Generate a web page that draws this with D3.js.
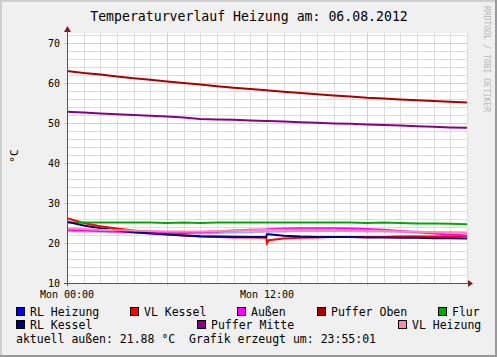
<!DOCTYPE html>
<html>
<head>
<meta charset="utf-8">
<script src="https://cdn.jsdelivr.net/npm/d3@7"></script>
<style>
  body { margin: 0; background: #f0f0f0; }
  svg text { font-family: "DejaVu Sans Mono", monospace; fill: #000; }
</style>
</head>
<body>
<svg id="chart" width="497" height="357"></svg>
<script>
// Stunden seit Mon 00:00
const hours = [0,1,2,3,4,5,6,7,8,9,10,11,11.95,12,12.1,13,14,15,16,17,18,19,20,21,22,23,24];

const rlHeizung   = [23.0,22.9,22.8,22.7,22.6,22.5,22.4,22.4,22.4,22.5,22.6,22.7,22.8,22.8,22.8,22.9,23.0,23.0,23.0,23.0,22.9,22.9,22.8,22.8,22.7,22.7,22.6];
const vlKessel    = [26.2,25.0,24.2,23.6,23.1,22.6,22.2,21.9,21.6,21.5,21.4,21.4,21.3,20.0,20.7,21.1,21.3,21.4,21.5,21.5,21.5,21.5,21.6,21.6,21.6,21.6,21.7];
const aussen      = [23.3,23.2,23.0,22.9,22.7,22.6,22.5,22.5,22.7,22.9,23.1,23.3,23.4,23.4,23.5,23.6,23.7,23.7,23.7,23.6,23.5,23.3,23.0,22.7,22.4,22.1,21.9];
const pufferOben  = [63.0,62.5,62.1,61.6,61.2,60.8,60.4,60.0,59.6,59.2,58.8,58.5,58.2,58.2,58.1,57.8,57.5,57.2,56.9,56.6,56.3,56.1,55.9,55.7,55.5,55.3,55.1];
const flur        = [25.1,25.1,25.1,25.1,25.1,25.1,25.0,25.1,25.0,25.1,25.1,25.1,25.1,25.1,25.1,25.1,25.1,25.1,25.1,25.1,25.0,25.1,25.0,24.9,24.85,24.8,24.7];
const rlKessel    = [25.3,24.4,23.7,23.1,22.7,22.4,22.1,21.9,21.7,21.6,21.55,21.5,21.5,22.2,22.2,21.8,21.6,21.5,21.5,21.5,21.4,21.4,21.3,21.3,21.2,21.2,21.1];
const pufferMitte = [52.8,52.6,52.4,52.2,52.0,51.8,51.6,51.4,51.0,50.9,50.8,50.65,50.5,50.5,50.5,50.35,50.2,50.05,49.9,49.8,49.65,49.5,49.35,49.2,49.05,48.9,48.8];
const vlHeizung   = [23.6,23.5,23.3,23.2,23.1,23.0,22.9,22.9,22.9,23.0,23.1,23.2,23.3,23.3,23.3,23.3,23.3,23.3,23.3,23.2,23.1,23.0,22.9,22.8,22.7,22.6,22.5];

const seriesNames  = ["RL Heizung","VL Kessel","Außen","Puffer Oben","Flur","RL Kessel","Puffer Mitte","VL Heizung"];
const seriesColors = ["#0000ff","#ff0000","#ff00ff","#aa0000","#00aa00","#000080","#880088","#ff88aa"];
const seriesValues = [rlHeizung, vlKessel, aussen, pufferOben, flur, rlKessel, pufferMitte, vlHeizung];

const yTicks = [10,20,30,40,50,60,70];
const xTicks = [0, 12];
const xTickLabels = ["Mon 00:00", "Mon 12:00"];

const svg = d3.select("#chart");
const W = 497, H = 357;

// Rahmen
svg.append("rect").attr("x",0).attr("y",0).attr("width",W).attr("height",H).attr("fill","#f0f0f0");
svg.append("rect").attr("x",0).attr("y",0).attr("width",W).attr("height",2).attr("fill","#cfcfcf");
svg.append("rect").attr("x",0).attr("y",0).attr("width",2).attr("height",H).attr("fill","#cfcfcf");
svg.append("rect").attr("x",W-2).attr("y",0).attr("width",2).attr("height",H).attr("fill","#9a9a9a");
svg.append("rect").attr("x",0).attr("y",H-2).attr("width",W).attr("height",2).attr("fill","#9a9a9a");

const x = d3.scaleLinear().domain([0,24]).range([67,467]);
const y = d3.scaleLinear().domain([10,72.5]).range([283,33]);

svg.append("rect")
  .attr("x", x(0)).attr("y", y(72.5))
  .attr("width", x(24)-x(0)).attr("height", y(10)-y(72.5))
  .attr("fill", "#fff");

// Gitter
const grid = svg.append("g").attr("shape-rendering","crispEdges");
grid.selectAll(".hmin").data(d3.range(12,73,2).filter(v => v % 10 !== 0))
  .enter().append("line")
  .attr("x1", x(0)).attr("x2", x(24))
  .attr("y1", d => Math.round(y(d))+0.5).attr("y2", d => Math.round(y(d))+0.5)
  .attr("stroke", "#dcdcdc");
grid.selectAll(".vmin").data(d3.range(1,25).filter(h => h % 6 !== 0 || h === 24))
  .enter().append("line")
  .attr("y1", y(72.5)).attr("y2", y(10))
  .attr("x1", d => Math.round(x(d))+0.5).attr("x2", d => Math.round(x(d))+0.5)
  .attr("stroke", "#dcdcdc");
grid.selectAll(".hmaj").data(yTicks.slice(1))
  .enter().append("line")
  .attr("x1", x(0)-3).attr("x2", x(24))
  .attr("y1", d => Math.round(y(d))+0.5).attr("y2", d => Math.round(y(d))+0.5)
  .attr("stroke", "#f6c0c0");
grid.selectAll(".vmaj").data([6,12,18])
  .enter().append("line")
  .attr("y1", y(72.5)).attr("y2", y(10)+3)
  .attr("x1", d => Math.round(x(d))+0.5).attr("x2", d => Math.round(x(d))+0.5)
  .attr("stroke", "#f6c0c0");

// Linien
const plot = svg.append("g");
svg.append("clipPath").attr("id","clip").append("rect")
  .attr("x", x(0)).attr("y", y(72.5)).attr("width", x(24)-x(0)).attr("height", y(10)-y(72.5));
plot.attr("clip-path","url(#clip)");

const line = d3.line().x(d => x(d[0])).y(d => y(d[1]));
seriesValues.forEach((vals, i) => {
  plot.append("path")
    .datum(hours.map((h, j) => [h, vals[j]]))
    .attr("d", line)
    .attr("fill", "none")
    .attr("stroke", seriesColors[i])
    .attr("stroke-width", 2)
    .attr("opacity", i === 0 ? 0.35 : 1);
});

// Achsen
const axisColor = "#7a2020";
svg.append("line").attr("x1", x(0)-3).attr("x2", x(24)+2)
  .attr("y1", y(10)+0.5).attr("y2", y(10)+0.5).attr("stroke", "#555").attr("shape-rendering","crispEdges");
svg.append("path").attr("d", `M${x(24)+1},${y(10)-3} L${x(24)+6},${y(10)+0.5} L${x(24)+1},${y(10)+4} Z`).attr("fill", axisColor);
svg.append("line").attr("x1", x(0)+0.5).attr("x2", x(0)+0.5)
  .attr("y1", y(10)+3).attr("y2", y(72.5)-3).attr("stroke", "#555").attr("shape-rendering","crispEdges");
svg.append("path").attr("d", `M${x(0)-3},${y(72.5)-1} L${x(0)+0.5},${y(72.5)-7} L${x(0)+4},${y(72.5)-1} Z`).attr("fill", axisColor);

svg.selectAll(".ylab").data(yTicks).enter().append("text")
  .attr("x", 60).attr("y", d => y(d)+4)
  .attr("text-anchor","end").attr("font-size", 10).text(d => d);
svg.selectAll(".xlab").data(xTicks).enter().append("text")
  .attr("x", d => x(d)).attr("y", 298)
  .attr("text-anchor","middle").attr("font-size", 10).text((d, i) => xTickLabels[i]);

svg.append("text").attr("transform","translate(18,156) rotate(-90)")
  .attr("text-anchor","middle").attr("font-size", 11).text("°C");

// Titel
svg.append("text").attr("x", 249).attr("y", 21).attr("text-anchor","middle")
  .attr("font-size", 13.2).text("Temperaturverlauf Heizung am: 06.08.2012");

svg.append("text").attr("transform","translate(484,6) rotate(90)")
  .attr("font-size", 8).style("fill","#b8b8b8").text("RRDTOOL / TOBI OETIKER");

// Legende
const legendPos = [[16,307],[130,307],[237,307],[317,307],[438,307],[16,320],[197,320],[398,320]];
const leg = svg.selectAll(".legend").data(seriesNames).enter().append("g")
  .attr("transform", (d, i) => `translate(${legendPos[i][0]},${legendPos[i][1]})`);
leg.append("rect").attr("x",0.5).attr("y",0.5).attr("width",8).attr("height",8)
  .attr("fill", (d, i) => seriesColors[i]).attr("stroke","#000").attr("shape-rendering","crispEdges");
leg.append("text").attr("x", 14).attr("y", 9).attr("font-size", 11.5).text(d => d);

svg.append("text").attr("x", 16).attr("y", 343).attr("font-size", 11.5).attr("xml:space","preserve")
  .text("aktuell außen: 21.88 °C  Grafik erzeugt um: 23:55:01");
</script>
</body>
</html>
